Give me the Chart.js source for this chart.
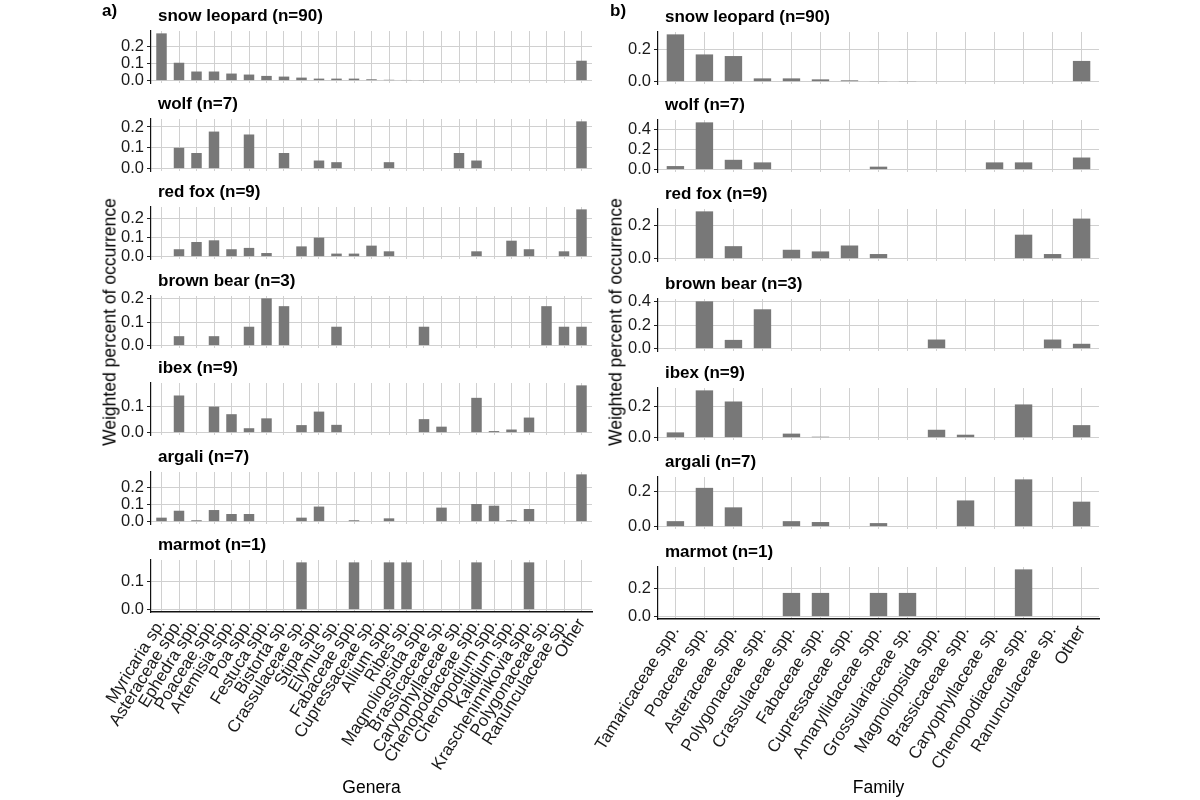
<!DOCTYPE html>
<html>
<head>
<meta charset="utf-8">
<script src="https://cdn.jsdelivr.net/npm/chart.js@4.4.1/dist/chart.umd.min.js"></script>
<style>
  html, body { margin: 0; padding: 0; background: #fff; }
  body { width: 1200px; height: 800px; position: relative; overflow: hidden;
         font-family: "Liberation Sans", Arial, Helvetica, sans-serif; }
  canvas { position: absolute; }
  .strip { position: absolute; font-weight: bold; font-size: 17px; line-height: 17px; color: #000; white-space: nowrap; z-index: 5; }
  .tag { position: absolute; font-weight: bold; font-size: 17px; line-height: 17px; color: #000; z-index: 5; }
  .ytitle { position: absolute; font-size: 17.5px; color: #000; white-space: nowrap; z-index: 5;
            transform: translate(-50%, -50%) rotate(-90deg); }
</style>
</head>
<body>
<script>
// ---------- DATA ----------
const genera = ["Myricaria sp.","Asteraceae spp.","Ephedra spp.","Poaceae spp.","Artemisia spp.","Poa spp.","Festuca spp.","Bistorta sp.","Crassulaceae sp.","Stipa spp.","Elymus sp.","Fabaceae spp.","Cupressaceae sp.","Allium spp.","Ribes sp.","Magnoliopsida spp.","Brassicaceae sp.","Caryophyllaceae sp.","Chenopodiaceae spp.","Chenopodium spp.","Kalidium spp.","Krascheninnikovia spp.","Polygonaceae sp.","Ranunculaceae sp.","Other"];
const families = ["Tamaricaceae spp.","Poaceae spp.","Asteraceae spp.","Polygonaceae spp.","Crassulaceae spp.","Fabaceae spp.","Cupressaceae spp.","Amaryllidaceae spp.","Grossulariaceae sp.","Magnoliopsida spp.","Brassicaceae spp.","Caryophyllaceae sp.","Chenopodiaceae spp.","Ranunculaceae sp.","Other"];
const predators = ["snow leopard (n=90)","wolf (n=7)","red fox (n=9)","brown bear (n=3)","ibex (n=9)","argali (n=7)","marmot (n=1)"];

// Genera (panel a)
const genSnowLeopard = [0.28,0.106,0.054,0.054,0.042,0.036,0.028,0.024,0.018,0.012,0.012,0.012,0.008,0.005,0.004,0.002,0,0,0,0,0,0,0,0,0.118];
const genWolf        = [0,0.1,0.075,0.178,0,0.164,0,0.075,0,0.039,0.031,0,0,0.031,0,0,0,0.075,0.039,0,0,0,0,0,0.227];
const genRedFox      = [0,0.039,0.077,0.086,0.039,0.046,0.019,0,0.054,0.1,0.016,0.016,0.058,0.028,0,0,0,0,0.028,0,0.084,0.039,0,0.028,0.249];
const genBrownBear   = [0,0.04,0,0.04,0,0.08,0.2,0.167,0,0,0.08,0,0,0,0,0.08,0,0,0,0,0,0,0.167,0.08,0.08];
const genIbex        = [0,0.143,0,0.1,0.071,0.017,0.055,0,0.029,0.081,0.03,0,0,0,0,0.052,0.023,0,0.134,0.006,0.012,0.058,0,0,0.182];
const genArgali      = [0.023,0.063,0.008,0.067,0.044,0.044,0,0,0.023,0.087,0,0.008,0,0.019,0,0,0.081,0,0.102,0.092,0.008,0.073,0,0,0.273];
const genMarmot      = [0,0,0,0,0,0,0,0,0.167,0,0,0.167,0,0.167,0.167,0,0,0,0.167,0,0,0.167,0,0,0];

// Families (panel b)
const famSnowLeopard = [0.29,0.167,0.157,0.02,0.02,0.014,0.008,0.002,0.002,0,0,0,0,0,0.127];
const famWolf        = [0.036,0.476,0.099,0.073,0,0,0,0.03,0,0,0,0.073,0.073,0,0.122];
const famRedFox      = [0,0.288,0.076,0,0.054,0.044,0.08,0.028,0,0,0,0,0.146,0.028,0.244];
const famBrownBear   = [0,0.4,0.074,0.333,0,0,0,0,0,0.077,0,0,0,0.077,0.041];
const famIbex        = [0.034,0.306,0.234,0,0.026,0.006,0,0,0,0.051,0.019,0,0.215,0,0.081];
const famArgali      = [0.031,0.219,0.109,0,0.031,0.026,0,0.02,0,0,0.148,0,0.267,0,0.141];
const famMarmot      = [0,0,0,0,0.167,0.167,0,0.167,0.167,0,0,0,0.333,0,0];

// y tick values per facet
const genTicks = [[0,0.1,0.2],[0,0.1,0.2],[0,0.1,0.2],[0,0.1,0.2],[0,0.1],[0,0.1,0.2],[0,0.1]];
const famTicks = [[0,0.2],[0,0.2,0.4],[0,0.2],[0,0.2,0.4],[0,0.2],[0,0.2],[0,0.2]];

const yAxisTitle = "Weighted percent of occurrence";

// ---------- STYLE / LAYOUT ----------
const FONT = '"Liberation Sans", Arial, Helvetica, sans-serif';
const BAR = '#787878';
const GRID = '#d0d0d0';
const TXT = '#1a1a1a';
Chart.defaults.font.family = FONT;

const panels = [
  { left: 151, w: 441, h: 52, tops: [31,119,207,296,383,472,560], yW: 62,
    cats: genera, series: [genSnowLeopard,genWolf,genRedFox,genBrownBear,genIbex,genArgali,genMarmot],
    ticks: genTicks, xTitle: "Genera", tag: "a)", tagX: 102, yTitleX: 110 },
  { left: 658, w: 441, h: 52, tops: [32,120,209,299,388,477,567], yW: 95,
    cats: families, series: [famSnowLeopard,famWolf,famRedFox,famBrownBear,famIbex,famArgali,famMarmot],
    ticks: famTicks, xTitle: "Family", tag: "b)", tagX: 610, yTitleX: 616 }
];

function addDiv(cls, text, left, top) {
  const d = document.createElement('div');
  d.className = cls; d.textContent = text;
  d.style.left = left + 'px'; d.style.top = top + 'px';
  document.body.appendChild(d);
  return d;
}

function facet(p, i) {
  const cats = p.cats, vals = p.series[i], tks = p.ticks[i];
  const isBottom = i === p.series.length - 1;
  const padTop = 20, padRight = 16;
  const padBottom = isBottom ? 0 : 20;
  const areaTop = p.tops[i];
  const xH = isBottom ? 800 - (areaTop + p.h) : 0;
  const W = p.yW + p.w + padRight;
  const H = padTop + p.h + xH + padBottom;
  const cv = document.createElement('canvas');
  cv.width = W; cv.height = H;
  cv.style.width = W + 'px'; cv.style.height = H + 'px';
  cv.style.left = (p.left - p.yW) + 'px';
  cv.style.top = (areaTop - padTop) + 'px';
  document.body.appendChild(cv);

  const m = Math.max(...vals);
  new Chart(cv, {
    type: 'bar',
    data: {
      datasets: [{
        data: vals.map((v, k) => ({ x: k, y: v })),
        backgroundColor: BAR, borderWidth: 0,
        barPercentage: 0.6, categoryPercentage: 1
      }]
    },
    options: {
      responsive: false, animation: false, devicePixelRatio: 1,
      layout: { padding: { top: padTop, right: padRight, bottom: padBottom, left: 0 } },
      plugins: { legend: { display: false }, tooltip: { enabled: false }, title: { display: false } },
      scales: {
        x: {
          type: 'linear', bounds: 'data', offset: false,
          min: -0.6, max: cats.length - 0.4,
          afterBuildTicks: s => { s.ticks = cats.map((_, k) => ({ value: k })); },
          afterFit: s => { s.height = xH; },
          grid: { color: GRID, lineWidth: 1, drawTicks: false, offset: false },
          border: { display: isBottom, color: '#111', width: 1.6 },
          ticks: { display: isBottom, autoSkip: false, minRotation: 58, maxRotation: 58,
                   padding: 3, color: TXT, font: { size: 17, family: FONT },
                   callback: v => cats[v] },
          title: { display: isBottom, text: p.xTitle, color: '#000',
                   font: { size: 17.5, family: FONT }, padding: { top: 0, bottom: 1 } }
        },
        y: {
          type: 'linear', bounds: 'data',
          min: -0.05 * m, max: 1.05 * m,
          afterBuildTicks: s => { s.ticks = tks.map(v => ({ value: v })); },
          afterFit: s => { s.width = p.yW; },
          grid: { color: GRID, lineWidth: 1, drawTicks: true, tickLength: 4, tickColor: '#222' },
          border: { display: true, color: '#111', width: 1.2 },
          ticks: { color: TXT, padding: 3, font: { size: 16.5, family: FONT },
                   callback: v => Number(v).toFixed(1) }
        }
      }
    }
  });

  addDiv('strip', predators[i], p.left + 7, areaTop - 24);
}

panels.forEach(p => {
  p.series.forEach((_, i) => facet(p, i));
  addDiv('tag', p.tag, p.tagX, 2);
  addDiv('ytitle', yAxisTitle, p.yTitleX, 322);
});
</script>
</body>
</html>
